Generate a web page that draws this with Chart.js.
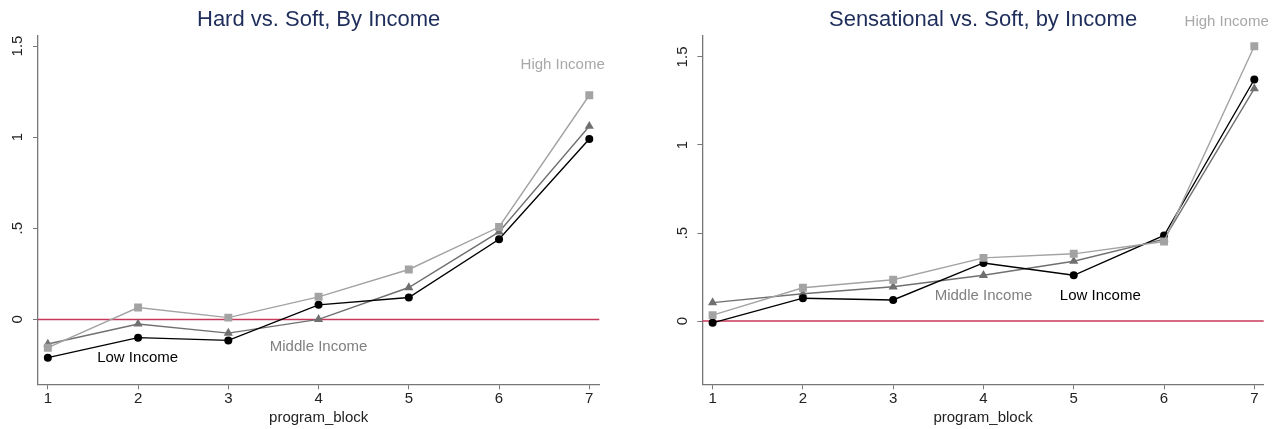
<!DOCTYPE html>
<html><head><meta charset="utf-8">
<script src="https://cdn.jsdelivr.net/npm/chart.js@4/dist/chart.umd.min.js"></script>
<style>
html,body{margin:0;padding:0;background:#fff;}
#wrap{position:relative;width:1283px;height:429px;overflow:hidden;}
.c{position:absolute;top:0;height:429px;}
</style></head><body>
<div id="wrap">
<div class="c" style="left:0;width:640px"><canvas id="c1"></canvas></div>
<div class="c" style="left:640px;width:643px"><canvas id="c2"></canvas></div>
</div>
<script>
// ---- data ----
const programBlocks = [1, 2, 3, 4, 5, 6, 7];
const yTickValues = [0, 0.5, 1, 1.5];
const yTickLabels = ['0', '.5', '1', '1.5'];
const seriesNames = ['Low Income', 'Middle Income', 'High Income'];

const hardLow    = [-0.21, -0.10, -0.115, 0.08, 0.12, 0.44, 0.99];
const hardMiddle = [-0.135, -0.025, -0.075, 0.0, 0.175, 0.48, 1.06];
const hardHigh   = [-0.155, 0.065, 0.01, 0.124, 0.274, 0.507, 1.23];

const sensLow    = [-0.01, 0.13, 0.12, 0.33, 0.26, 0.486, 1.372];
const sensMiddle = [0.105, 0.155, 0.195, 0.26, 0.34, 0.465, 1.32];
const sensHigh   = [0.034, 0.189, 0.235, 0.359, 0.382, 0.452, 1.561];

// annotation label anchors (data coordinates: program_block, value)
const hardLabelX = [1.995, 4.0, 6.705];
const hardLabelY = [-0.213, -0.152, 1.396];
const sensLabelX = [5.294, 4.0, 6.694];
const sensLabelY = [0.146, 0.146, 1.70];

// ---- styles ----
const FONT = '"Liberation Sans", Arial, Helvetica, sans-serif';
const seriesColors = ['#000000', '#707070', '#a3a3a3'];
const labelColors = ['#000000', '#808080', '#a8a8a8'];
const pointStyles = ['circle', 'triangle', 'rect'];
const pointRadii = [4, 5.3, 5.6];
const drawOrder = [1, 2, 0];
const AXIS = '#777777';

const pts = (arr) => programBlocks.map((b, i) => ({x: b, y: arr[i]}));

function makeChart(id, title, low, mid, high, labX, labY, cfg) {
  const series = [low, mid, high];
  const datasets = series.map((s, k) => ({
    label: seriesNames[k],
    data: pts(s),
    borderColor: seriesColors[k],
    backgroundColor: seriesColors[k],
    pointBackgroundColor: seriesColors[k],
    pointBorderColor: seriesColors[k],
    pointBorderWidth: 0,
    pointStyle: pointStyles[k],
    pointRadius: pointRadii[k],
    pointHoverRadius: pointRadii[k],
    borderWidth: 1.4,
    tension: 0,
    order: drawOrder[k]
  }));

  const decor = {
    id: 'decor' + id,
    beforeDatasetsDraw(chart) {
      const {ctx, chartArea: a, scales: {y}} = chart;
      const py = y.getPixelForValue(0);
      ctx.save();
      ctx.strokeStyle = '#c8385a';
      ctx.lineWidth = 1.5;
      ctx.beginPath();
      ctx.moveTo(a.left, py);
      ctx.lineTo(a.right, py);
      ctx.stroke();
      ctx.restore();
    },
    afterDraw(chart) {
      const {ctx, chartArea: a, scales: {x, y}} = chart;
      ctx.save();
      // title
      ctx.fillStyle = '#1e2d5a';
      ctx.font = '22px ' + FONT;
      ctx.textAlign = 'center';
      ctx.textBaseline = 'middle';
      ctx.fillText(title, (a.left + a.right) / 2, 20);
      // rotated y tick labels
      ctx.fillStyle = '#222';
      ctx.font = '15px ' + FONT;
      yTickValues.forEach((v, i) => {
        const py = y.getPixelForValue(v);
        ctx.save();
        ctx.translate(a.left - 20, py);
        ctx.rotate(-Math.PI / 2);
        ctx.textAlign = 'center';
        ctx.textBaseline = 'middle';
        ctx.fillText(yTickLabels[i], 0, 0);
        ctx.restore();
      });
      // series labels
      ctx.font = '15px ' + FONT;
      ctx.textAlign = 'center';
      ctx.textBaseline = 'middle';
      seriesNames.forEach((n, k) => {
        ctx.fillStyle = labelColors[k];
        ctx.fillText(n, x.getPixelForValue(labX[k]), y.getPixelForValue(labY[k]));
      });
      ctx.restore();
    }
  };

  return new Chart(document.getElementById(id), {
    type: 'line',
    data: {datasets},
    options: {
      responsive: true,
      maintainAspectRatio: false,
      animation: false,
      events: [],
      layout: {padding: {left: 0, right: cfg.padRight, top: 36, bottom: 0}},
      plugins: {legend: {display: false}, tooltip: {enabled: false}, title: {display: false}},
      scales: {
        x: {
          type: 'linear',
          min: cfg.xMin, max: cfg.xMax,
          afterBuildTicks: (s) => { s.ticks = programBlocks.map(v => ({value: v})); },
          afterFit: (s) => { s.height = 44.7; },
          grid: {display: true, drawOnChartArea: false, drawTicks: true, tickLength: 5, color: AXIS},
          border: {display: true, color: AXIS, width: 1.3},
          ticks: {font: {family: FONT, size: 15}, color: '#222', padding: 1, maxRotation: 0, autoSkip: false,
                  callback: (v) => String(v)},
          title: {display: true, text: 'program_block', font: {family: FONT, size: 15}, color: '#222',
                  padding: {top: 0, bottom: 2.3}}
        },
        y: {
          type: 'linear',
          min: cfg.yMin, max: cfg.yMax,
          afterBuildTicks: (s) => { s.ticks = yTickValues.map(v => ({value: v})); },
          afterFit: (s) => { s.width = cfg.yWidth; },
          grid: {display: true, drawOnChartArea: false, drawTicks: true, tickLength: 5, color: AXIS},
          border: {display: true, color: AXIS, width: 1.3},
          ticks: {color: 'rgba(0,0,0,0)', font: {family: FONT, size: 15}}
        }
      }
    },
    plugins: [decor]
  });
}

makeChart('c1', 'Hard vs. Soft, By Income', hardLow, hardMiddle, hardHigh, hardLabelX, hardLabelY,
  {padRight: 40.7, yWidth: 38, xMin: 0.891, xMax: 7.111, yMin: -0.356, yMax: 1.555});
makeChart('c2', 'Sensational vs. Soft, by Income', sensLow, sensMiddle, sensHigh, sensLabelX, sensLabelY,
  {padRight: 19.3, yWidth: 62.4, xMin: 0.887, xMax: 7.104, yMin: -0.359, yMax: 1.619});
</script>
</body></html>
